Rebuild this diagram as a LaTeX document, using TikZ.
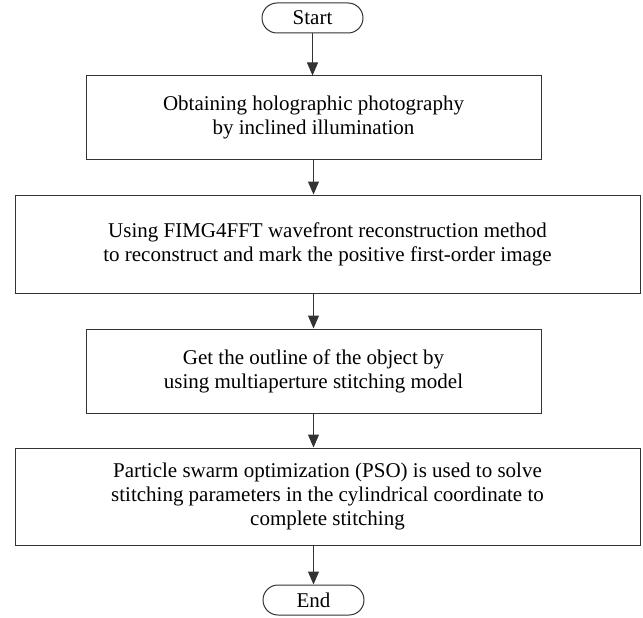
\documentclass[tikz,border=0pt]{standalone}
\usepackage{fontspec}
\setmainfont{Liberation Serif}
\usetikzlibrary{shapes.misc,arrows.meta}
\begin{document}
\begin{tikzpicture}[x=1pt, y=-1pt, >={Triangle[width=11pt,length=13pt]},
  box/.style={draw=black!80, line width=1pt, inner sep=0pt, align=center,
    font=\fontsize{21}{24}\selectfont},
  term/.style={box, rounded rectangle, minimum width=101pt, minimum height=30pt}]
  \useasboundingbox (0,0) rectangle (643,618);
  \node[term] (start) at (312.5,18) {Start};
  \node[box, minimum width=455pt, minimum height=83pt] (obtain) at (313.5,117.5)
    {Obtaining holographic photography\\by inclined illumination};
  \node[box, minimum width=625pt, minimum height=98pt] (recon) at (327.5,244)
    {Using FIMG4FFT wavefront reconstruction method\\to reconstruct and mark the positive first-order image};
  \node[box, minimum width=455pt, minimum height=84pt] (outline) at (313.5,371)
    {Get the outline of the object by\\using multiaperture stitching model};
  \node[box, minimum width=625pt, minimum height=97pt] (pso) at (327.5,496.5)
    {Particle swarm optimization (PSO) is used to solve\\stitching parameters in the cylindrical coordinate to\\complete stitching};
  \node[term] (end) at (313.5,600) {End};
  % arrows
  \draw[->, line width=1pt, black!80] (start.south) -- (start.south |- obtain.north);
  \draw[->, line width=1pt, black!80] (obtain.south) -- (obtain.south |- recon.north);
  \draw[->, line width=1pt, black!80] (outline.north |- recon.south) -- (outline.north);
  \draw[->, line width=1pt, black!80] (outline.south) -- (outline.south |- pso.north);
  \draw[->, line width=1pt, black!80] (end.north |- pso.south) -- (end.north);
\end{tikzpicture}
\end{document}
